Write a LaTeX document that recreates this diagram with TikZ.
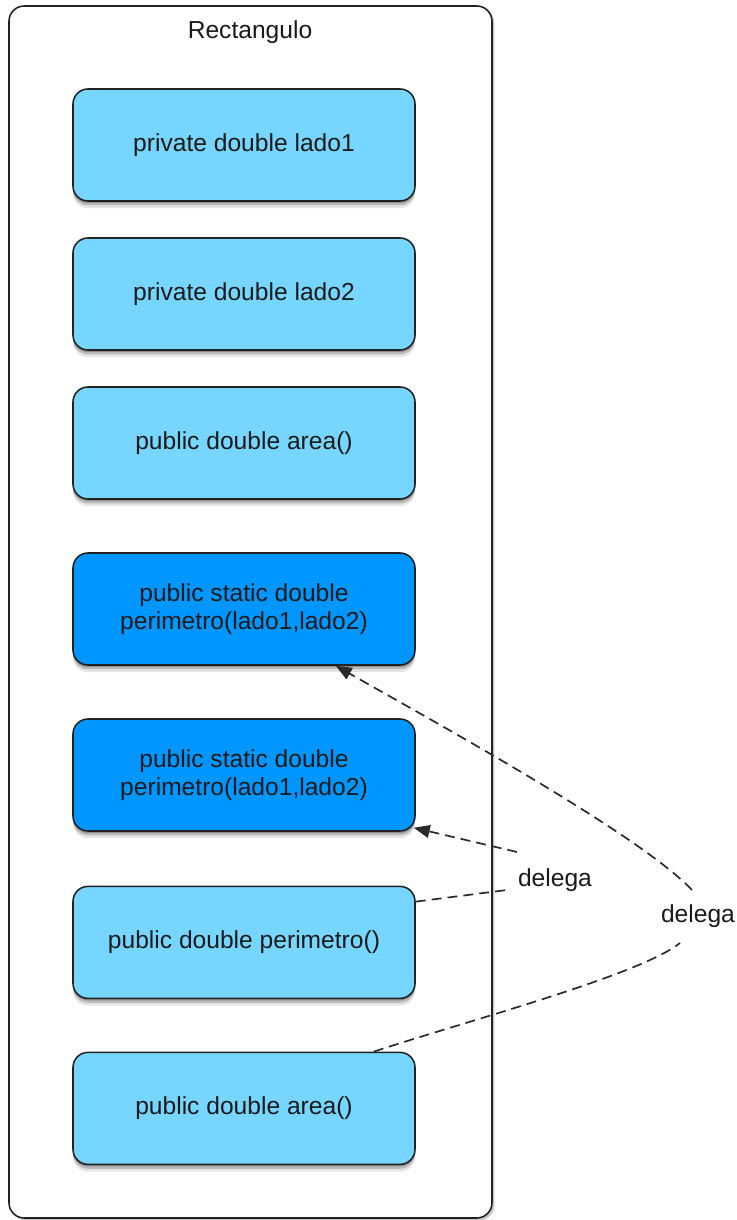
\documentclass[tikz,border=0pt]{standalone}
\usepackage{fontspec}
\setmainfont{Liberation Sans}
\usetikzlibrary{arrows.meta,calc,shadows}
\definecolor{AttrBlue}{HTML}{76D6FF}
\definecolor{StaticBlue}{HTML}{0096FF}
\definecolor{Edge}{HTML}{222222}
\definecolor{Ink}{HTML}{1A1A1A}
\definecolor{Link}{HTML}{2A2A2A}
\tikzset{
  softshadow/.style={drop shadow={shadow xshift=0cm,shadow yshift=-0.05cm,opacity=0.25,fill=black},
                     drop shadow={shadow xshift=0cm,shadow yshift=-0.11cm,opacity=0.18,fill=black},
                     drop shadow={shadow xshift=0cm,shadow yshift=-0.18cm,opacity=0.10,fill=black}},
  classbox/.style={draw=Edge,line width=1.1pt,rounded corners=0.38cm,fill=white,minimum width=12.075cm,minimum height=30.3cm,
                   drop shadow={shadow xshift=0.06cm,shadow yshift=-0.06cm,opacity=0.22,fill=black}},
  member/.style={draw=Edge,line width=1.1pt,rounded corners=0.375cm,minimum width=8.55cm,minimum height=2.8cm,
                 align=center,text=Ink,font=\fontsize{17.5}{20}\selectfont,softshadow},
  attr/.style={member,fill=AttrBlue},
  stat/.style={member,fill=StaticBlue},
  title/.style={font=\fontsize{17.5}{20}\selectfont,text=Ink},
  delegalbl/.style={font=\fontsize{17.5}{20}\selectfont,text=Ink,inner sep=2pt},
  link/.style={draw=Link,line width=1.2pt,line cap=butt,dash pattern=on 0.25cm off 0.15cm},
}

\begin{document}
\begin{tikzpicture}[x=1cm,y=1cm,line cap=round,line join=round]

% Canvas
\fill[white] (0,0) rectangle (18.425,30.5);
\useasboundingbox (0,0) rectangle (18.425,30.5);

% Class frame
\node[classbox] (cls) at (6.2625,15.20) {};
\node[title] (clsname) at (6.25,29.70) {Rectangulo};

% Members
\node[attr] (lado1) at (6.10,26.875) {private double lado1};
\node[attr] (lado2) at (6.10,23.15) {private double lado2};
\node[attr] (areaA) at (6.10,19.425) {public double area()};
\node[stat] (sper1) at (6.10,15.275) {public static double\\perimetro(lado1,lado2)};
\node[stat] (sper2) at (6.10,11.125) {public static double\\perimetro(lado1,lado2)};
\node[attr] (perim) at (6.10,6.94) {public double perimetro()};
\node[attr] (areaB) at (6.10,2.79) {public double area()};

% Delegation labels
\node[delegalbl] (dlg1) at (13.875,8.50) {delega};
\node[delegalbl] (dlg2) at (17.45,7.60) {delega};

% perimetro() delegates to the static version
\draw[link] ([yshift=-0.4cm]perim.north east) -- ($(dlg1)+(-1.2,-0.25)$);
\draw[link,-{Triangle[length=0.4cm,width=0.32cm]}] ($(dlg1)+(-0.95,0.70)$)
  -- ([shift={(-0.05,0.1)}]sper2.south east);

% area() delegates to the static version too
\draw[link] ([xshift=-1.05cm]areaB.north east)
  .. controls (11.75,5.0) and (16.0,6.125) .. ($(dlg2)+(-0.45,-0.675)$);
\draw[link,-{Triangle[length=0.4cm,width=0.32cm]}] ($(dlg2)+(-0.15,0.65)$)
  .. controls (16.0,9.625) and (11.0,12.375) .. ([xshift=-2cm]sper1.south east);

\end{tikzpicture}
\end{document}
